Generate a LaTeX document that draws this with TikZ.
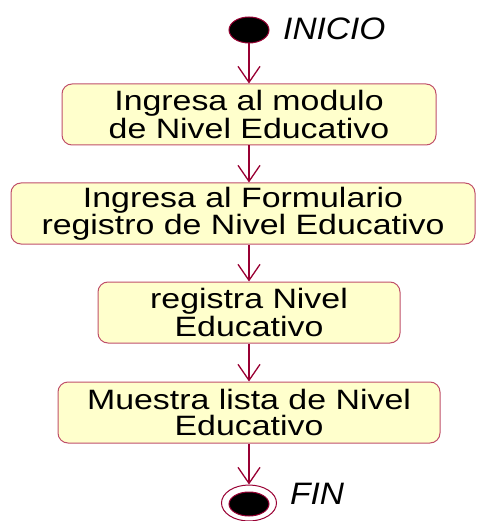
\documentclass[tikz,border=0pt]{standalone}
\usepackage{fontspec}
\setmainfont{Liberation Sans}[FakeStretch=1.21]
\newfontfamily\stateFont{Liberation Sans}[FakeStretch=1.08]
\usepackage{xcolor}
\definecolor{flowRed}{HTML}{990033}
\definecolor{boxBorder}{HTML}{C0506A}
\definecolor{boxFill}{HTML}{FFFFCC}
\usetikzlibrary{shapes.geometric, arrows.meta, positioning}

\begin{document}
\begin{tikzpicture}[
        x=1pt, y=-1pt,
        actionNode/.style={
            draw=boxBorder,
            fill=boxFill,
            line width=1pt,
            rounded corners=10pt,
            minimum height=61pt,
            inner sep=0pt,
            font=\fontsize{28}{26}\selectfont,
            align=center
        },
        stateNode/.style={
            ellipse,
            draw=flowRed,
            line width=1pt,
            inner sep=0pt
        },
        stateLabel/.style={
            font=\stateFont\fontsize{31}{31}\selectfont\itshape,
            anchor=west,
            inner sep=0pt
        },
        flowArrow/.style={
            -{Straight Barb[length=16pt,width=22pt]},
            line width=1.3pt,
            flowRed
        }
    ]
    \useasboundingbox (0,0) rectangle (476,521);

    % Start
    \node[stateNode, fill=black, minimum width=40pt, minimum height=26pt] (inicio) at (249,30) {};
    \node[stateLabel] (inicioText) at (283,29) {INICIO};

    % Actions
    \node[actionNode, minimum width=374pt] (modulo) at (249,114.5) {Ingresa al modulo\\de Nivel Educativo};
    \node[actionNode, minimum width=464pt] (formulario) at (243,213.5) {Ingresa al Formulario\\registro de Nivel Educativo};
    \node[actionNode, minimum width=302pt] (registra) at (249,312.5) {registra Nivel\\Educativo};
    \node[actionNode, minimum width=382pt] (muestra) at (249,412.5) {Muestra lista de Nivel\\Educativo};

    % End
    \node[stateNode, minimum width=55pt, minimum height=36pt] (fin) at (249,503) {};
    \node[stateNode, fill=black, minimum width=40pt, minimum height=24pt] (finCore) at (249,504) {};
    \node[stateLabel] (finText) at (290,494) {FIN};

    % Flow
    \draw[flowArrow] (inicio.south) -- (modulo.north);
    \draw[flowArrow] (modulo.south) -- (modulo.south |- formulario.north);
    \draw[flowArrow] (modulo.south |- formulario.south) -- (registra.north);
    \draw[flowArrow] (registra.south) -- (muestra.north);
    \draw[flowArrow] (muestra.south) -- (fin.north);
\end{tikzpicture}
\end{document}
